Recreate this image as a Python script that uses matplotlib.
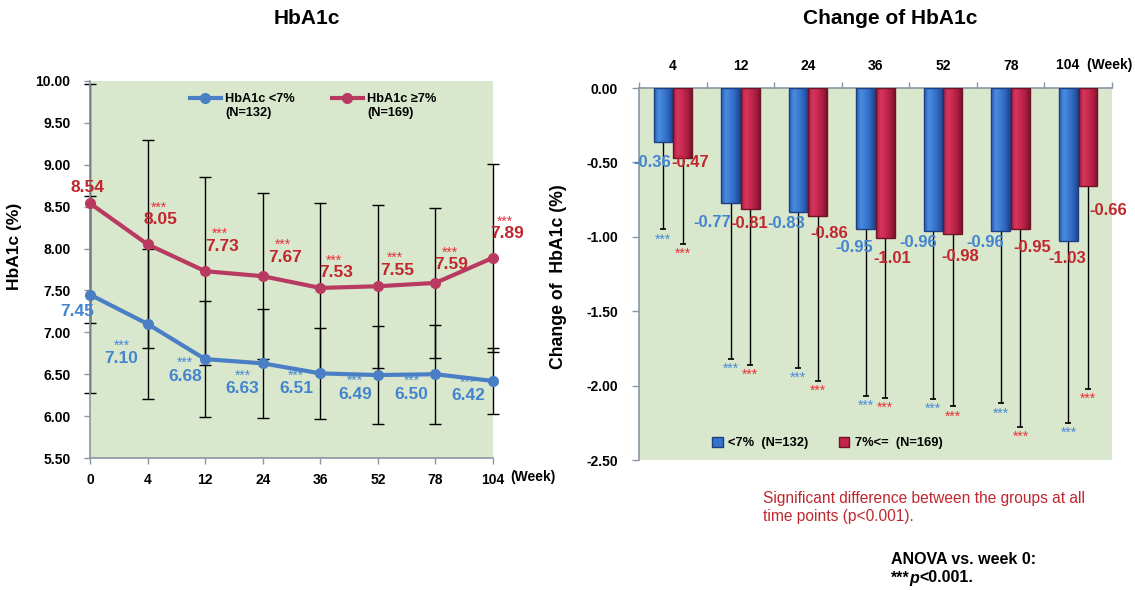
import matplotlib
matplotlib.use('Agg')
import matplotlib.pyplot as plt
import numpy as np
from matplotlib.patches import Patch
from matplotlib.colors import LinearSegmentedColormap
from matplotlib.ticker import FormatStrFormatter
import matplotlib.transforms as mtransforms

plt.rcParams['font.family'] = ['Liberation Sans', 'DejaVu Sans']
plt.rcParams['font.weight'] = 'bold'
plt.rcParams['axes.labelweight'] = 'bold'

# ---------------- data ----------------
weeks = ['0', '4', '12', '24', '36', '52', '78', '104']
low_mean = [7.45, 7.10, 6.68, 6.63, 6.51, 6.49, 6.50, 6.42]
high_mean = [8.54, 8.05, 7.73, 7.67, 7.53, 7.55, 7.59, 7.89]
low_sd = [1.18, 0.90, 0.69, 0.65, 0.54, 0.58, 0.59, 0.39]
high_sd = [1.43, 1.24, 1.12, 0.99, 1.01, 0.97, 0.90, 1.12]
low_name = 'HbA1c <7%'
high_name = 'HbA1c \u22657%'
low_n = '(N=132)'
high_n = '(N=169)'

change_weeks = ['4', '12', '24', '36', '52', '78', '104']
low_change = [-0.36, -0.77, -0.83, -0.95, -0.96, -0.96, -1.03]
high_change = [-0.47, -0.81, -0.86, -1.01, -0.98, -0.95, -0.66]
low_change_sd = [0.59, 1.05, 1.05, 1.12, 1.13, 1.16, 1.22]
high_change_sd = [0.58, 1.05, 1.11, 1.07, 1.16, 1.33, 1.36]
low_change_name = '<7%  (N=132)'
high_change_name = '7%<=  (N=169)'

# ---------------- styles / layout ----------------
W, H = 1135, 590
green = '#D9E8CC'
gray = '#8A96A3'
blue_line = '#4A7FC6'
red_line = '#B93A60'
blue_txt = '#4384D0'
red_txt = '#C0272F'
blue_star = '#4A8BD6'
red_star = '#E8323C'
blue_bar = '#3572CC'
blue_edge = '#1C3F84'
red_bar = '#C4254C'
red_edge = '#6E1226'
blue_grad = ['#2A5FB5', '#4A8CE0', '#3D7BD2', '#2E66BE', '#1D4790']
red_grad = ['#A81D40', '#D63660', '#C8294F', '#AE1E43', '#7C1430']
tick_fs = 10
star_fs = 10

# label offsets in pixels (dx right, dy down) relative to each point
high_lbl_off = [(-3, -16), (13, -25), (17, -25), (22, -19), (16, -15), (19, -16), (16, -18), (14, -24)]
low_lbl_off = [(-13, 17), (-26, 35), (-20, 17), (-20, 25), (-24, 15), (-23, 19), (-24, 20), (-25, 15)]
low_chg_off = [(-11, 21), (-18, 20), (-12, 12), (-11, 18), (-15, 12), (-16, 12), (-1, 17)]
high_chg_off = [(8, 5), (-1, 15), (12, 18), (7, 20), (7, 23), (12, 18), (20, 24)]
low_chg_colors = [blue_txt] * 6 + [red_txt]

fig = plt.figure(figsize=(W / 100, H / 100), dpi=100)


def px_axes(l, t, r, b):
    return fig.add_axes([l / W, 1 - b / H, (r - l) / W, (b - t) / H])


# ================= left chart =================
ax1 = px_axes(90, 81, 493, 458)
ax1.set_facecolor(green)
x1 = np.arange(len(weeks))
ax1.set_xlim(0, len(weeks) - 1)
ax1.set_ylim(5.5, 10.0)

for mean, sd in ((high_mean, high_sd), (low_mean, low_sd)):
    eb = ax1.errorbar(x1, mean, yerr=sd, fmt='none', ecolor='black',
                      elinewidth=1, capsize=4, capthick=1, zorder=2)
    for art in eb.get_children():
        art.set_clip_on(False)

ax1.plot(x1, low_mean, color=blue_line, lw=3, marker='o', ms=7,
         zorder=4, clip_on=False, label=low_name)
ax1.plot(x1, high_mean, color=red_line, lw=3, marker='o', ms=7,
         zorder=4, clip_on=False, label=high_name)

for i, v in enumerate(high_mean):
    dx, dy = high_lbl_off[i]
    ax1.annotate(f'{v:.2f}', (x1[i], v), xytext=(dx, -dy), textcoords='offset pixels',
                 ha='center', va='center', color=red_txt, fontsize=12.5, zorder=6)
    if i > 0:
        ax1.annotate('***', (x1[i], v), xytext=(dx - 2, -dy + 8), textcoords='offset pixels',
                     ha='center', va='baseline', color=red_star, fontsize=star_fs, fontweight='normal')
for i, v in enumerate(low_mean):
    dx, dy = low_lbl_off[i]
    ax1.annotate(f'{v:.2f}', (x1[i], v), xytext=(dx, -dy), textcoords='offset pixels',
                 ha='center', va='center', color=blue_txt, fontsize=12.5, zorder=6)
    if i > 0:
        ax1.annotate('***', (x1[i], v), xytext=(dx, -dy + 9), textcoords='offset pixels',
                     ha='center', va='baseline', color=blue_star, fontsize=star_fs, fontweight='normal')

for s in ('top', 'right'):
    ax1.spines[s].set_visible(False)
for s in ('left', 'bottom'):
    ax1.spines[s].set_color(gray)
    ax1.spines[s].set_linewidth(1.2)
ax1.set_xticks(x1)
ax1.set_xticklabels(weeks)
ax1.set_yticks(np.arange(5.5, 10.01, 0.5))
ax1.yaxis.set_major_formatter(FormatStrFormatter('%.2f'))
ax1.tick_params(axis='y', direction='out', length=4, width=1, color=gray, pad=10, labelsize=tick_fs)
ax1.tick_params(axis='x', direction='out', length=4, width=1, color=gray, pad=7, labelsize=tick_fs)
ax1.text(1.042, -0.05, '(Week)', transform=ax1.transAxes, ha='left', va='center', fontsize=tick_fs)
ax1.set_ylabel('HbA1c (%)', fontsize=12.5)
ax1.yaxis.set_label_coords(-0.169, 0.562)

leg1 = ax1.legend(loc='upper left', bbox_to_anchor=(0.248, 0.968), ncol=2, frameon=False,
                  fontsize=9.2, handlelength=2.4, handletextpad=0.35, columnspacing=2.9,
                  borderpad=0, borderaxespad=0)
for txt, n in zip(leg1.get_texts(), (low_n, high_n)):
    fig.add_artist(plt.Annotation(n, xy=(0, 0), xycoords=txt, xytext=(0, -2),
                                  textcoords='offset pixels', ha='left', va='top', fontsize=9.2))

fig.text(307 / W, 1 - 19 / H, 'HbA1c', ha='center', va='center', fontsize=15)

# ================= right chart =================
ax2 = px_axes(639, 88, 1112, 460)
ax2.set_facecolor(green)
x2 = np.arange(len(change_weeks))
bw, off = 0.28, 0.145

bars_low = ax2.bar(x2 - off, low_change, width=bw, color=blue_bar, edgecolor=blue_edge, lw=1, zorder=3)
bars_high = ax2.bar(x2 + off, high_change, width=bw, color=red_bar, edgecolor=red_edge, lw=1, zorder=3)

# bevel-like horizontal gradient inside each bar
grad = np.linspace(0, 1, 64).reshape(1, -1)
for bars, cols in ((bars_low, blue_grad), (bars_high, red_grad)):
    cmap = LinearSegmentedColormap.from_list('g', cols)
    for p in bars:
        x0, y0 = p.get_x(), p.get_y()
        w, h = p.get_width(), p.get_height()
        im = ax2.imshow(grad, cmap=cmap, aspect='auto', extent=(x0, x0 + w, y0 + h, y0),
                        zorder=3.1, interpolation='bicubic')
        im.set_clip_path(p)
        p.set_facecolor('none')
        p.set_zorder(3.2)
ax2.set_xlim(-0.5, len(change_weeks) - 0.5)
ax2.set_ylim(-2.5, 0)
ax2.set_aspect('auto')

low_ends = np.array(low_change) - np.array(low_change_sd)
high_ends = np.array(high_change) - np.array(high_change_sd)
for xs, vals, ends, scol in ((x2 - off, low_change, low_ends, blue_star),
                             (x2 + off, high_change, high_ends, red_star)):
    ax2.vlines(xs, vals, ends, color='black', lw=1, zorder=2)
    ax2.plot(xs, ends, ls='none', marker='_', ms=5, mew=1.2, color='black', zorder=2)
    for xx, e in zip(xs, ends):
        ax2.annotate('***', (xx, e), xytext=(0, -14), textcoords='offset pixels',
                     ha='center', va='baseline', color=scol, fontsize=star_fs, fontweight='normal')

for i, v in enumerate(low_change):
    dx, dy = low_chg_off[i]
    ax2.annotate(f'{v:.2f}', (x2[i] - off, v), xytext=(dx, -dy), textcoords='offset pixels',
                 ha='center', va='center', color=low_chg_colors[i], fontsize=12, zorder=6)
for i, v in enumerate(high_change):
    dx, dy = high_chg_off[i]
    ax2.annotate(f'{v:.2f}', (x2[i] + off, v), xytext=(dx, -dy), textcoords='offset pixels',
                 ha='center', va='center', color=red_txt, fontsize=12, zorder=6)

for s in ('bottom', 'right'):
    ax2.spines[s].set_visible(False)
for s in ('top', 'left'):
    ax2.spines[s].set_color(gray)
    ax2.spines[s].set_linewidth(1.2)
ax2.xaxis.tick_top()
ax2.set_xticks(x2)
ax2.set_xticklabels(change_weeks[:-1] + [''])
ax2.set_xticks(np.arange(-0.5, len(change_weeks)), minor=True)
ax2.tick_params(axis='x', which='major', length=0, pad=11, labelsize=tick_fs)
ax2.tick_params(axis='x', which='minor', length=4, width=1, color=gray, direction='out')
ax2.text(x2[-1] - 0.33, 1.0, change_weeks[-1] + '  (Week)',
         transform=mtransforms.offset_copy(
             mtransforms.blended_transform_factory(ax2.transData, ax2.transAxes),
             fig=fig, x=0, y=23, units='dots'),
         ha='left', va='center', fontsize=tick_fs)
ax2.set_yticks(np.arange(-2.5, 0.01, 0.5))
ax2.yaxis.set_major_formatter(FormatStrFormatter('%.2f'))
ax2.tick_params(axis='y', direction='out', length=5, width=1, color=gray, pad=10, labelsize=tick_fs)
ax2.set_ylabel('Change of  HbA1c (%)', fontsize=12.7)
ax2.yaxis.set_label_coords(-0.152, 0.492)

handles = [Patch(facecolor=blue_bar, edgecolor=blue_edge), Patch(facecolor=red_bar, edgecolor=red_edge)]
ax2.legend(handles, [low_change_name, high_change_name], loc='center left',
           bbox_to_anchor=(0.155, 0.046), ncol=2, frameon=False, fontsize=9.3,
           handlelength=0.8, handleheight=0.8, handletextpad=0.4, columnspacing=2.4,
           borderpad=0, borderaxespad=0)

fig.text(890 / W, 1 - 19 / H, 'Change of HbA1c', ha='center', va='center', fontsize=15)

# ---------------- footnotes ----------------
fig.text(763 / W, 1 - 507 / H, 'Significant difference between the groups at all\ntime points (p<0.001).',
         ha='left', va='center', color=red_txt, fontsize=11.2, fontweight='normal', linespacing=1.25)
fig.text(891 / W, 1 - 560 / H, 'ANOVA vs. week 0:', ha='left', va='center', fontsize=11.5)
t1 = fig.text(891 / W, 1 - 578 / H, '***', ha='left', va='center', fontsize=11.5)
an = fig.add_artist(plt.Annotation('p', xy=(1, 0), xycoords=t1, ha='left', va='bottom',
                                   fontsize=11.5, fontstyle='italic'))
fig.add_artist(plt.Annotation('<0.001.', xy=(1, 0), xycoords=an, ha='left', va='bottom', fontsize=11.5))

fig.savefig('out.png', dpi=100)
